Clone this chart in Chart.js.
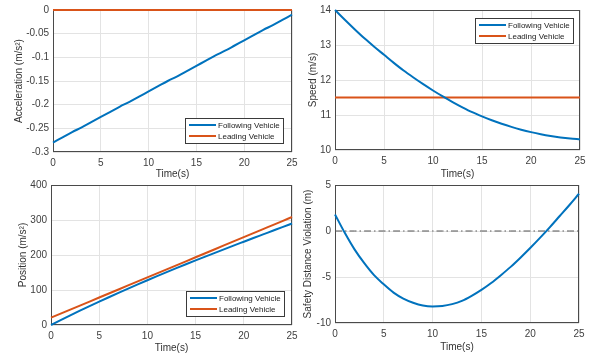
<!DOCTYPE html>
<html>
<head>
<meta charset="utf-8">
<script src="https://cdn.jsdelivr.net/npm/chart.js@4"></script>
<style>
  html, body { margin: 0; padding: 0; background: #fff; }
  #wrap { position: relative; width: 592px; height: 360px; overflow: hidden; }
  canvas { position: absolute; }
</style>
</head>
<body>
<div id="wrap">
  <canvas id="accChart" width="310" height="180" style="left:0;top:0"></canvas>
  <canvas id="speedChart" width="296" height="180" style="left:296px;top:0"></canvas>
  <canvas id="posChart" width="310" height="180" style="left:0;top:180px"></canvas>
  <canvas id="safeChart" width="296" height="180" style="left:296px;top:180px"></canvas>
</div>
<script>
// time in seconds
const time = [0,1,2,3,4,5,6,7,8,9,10,11,12,13,14,15,16,17,18,19,20,21,22,23,24,25];

// acceleration (m/s^2)
const accFollow = [-0.280,-0.269,-0.258,-0.248,-0.237,-0.226,-0.215,-0.204,-0.194,-0.183,-0.172,-0.161,-0.150,
                   -0.140,-0.129,-0.118,-0.107,-0.096,-0.086,-0.075,-0.064,-0.053,-0.042,-0.032,-0.021,-0.010];
const accLead = [0,0,0,0,0,0,0,0,0,0,0,0,0,0,0,0,0,0,0,0,0,0,0,0,0,0];

// speed (m/s)
const speedFollow = [14.00,13.72,13.45,13.19,12.95,12.72,12.49,12.27,12.07,11.88,11.70,11.53,11.37,
                     11.22,11.08,10.96,10.85,10.75,10.66,10.58,10.51,10.45,10.40,10.36,10.33,10.31];
const speedLead = [11.5,11.5,11.5,11.5,11.5,11.5,11.5,11.5,11.5,11.5,11.5,11.5,11.5,
                   11.5,11.5,11.5,11.5,11.5,11.5,11.5,11.5,11.5,11.5,11.5,11.5,11.5];

// position (m)
const posFollow = [0,13.9,27.5,40.8,53.9,66.7,79.3,91.7,103.9,115.9,127.8,139.5,151.0,
                   162.3,173.5,184.5,195.4,206.2,216.9,227.5,238.0,248.5,258.9,269.3,279.7,290.0];
const posLead = [21,32.5,44,55.5,67,78.5,90,101.5,113,124.5,136,147.5,159,
                 170.5,182,193.5,205,216.5,228,239.5,251,262.5,274,285.5,297,308.5];

// safety distance violation (m)
const safetyViol = [1.8,-0.2,-2.0,-3.5,-4.8,-5.8,-6.7,-7.35,-7.8,-8.1,-8.2,-8.15,-7.95,
                    -7.6,-7.05,-6.4,-5.65,-4.8,-3.9,-2.9,-1.85,-0.75,0.4,1.6,2.8,4.05];
const zeroLine = [0,0,0,0,0,0,0,0,0,0,0,0,0,0,0,0,0,0,0,0,0,0,0,0,0,0];

const legendNames = ['Following Vehicle', 'Leading Vehicle'];
const xTicks = [0, 5, 10, 15, 20, 25];

const BLUE = '#0072BD';
const ORANGE = '#D95319';
const FONT = "'Liberation Sans', Arial, sans-serif";

function pts(ys) {
  return ys.map((y, i) => ({ x: time[i], y: y }));
}

function line(label, ys, color) {
  return {
    label: label,
    data: pts(ys),
    borderColor: color,
    backgroundColor: color,
    borderWidth: 2,
    pointRadius: 0,
    cubicInterpolationMode: 'monotone',
    clip: 3
  };
}

// box round the plot area, like matlab's "box on"
const boxPlugin = {
  id: 'boxPlugin',
  beforeDatasetsDraw(chart) {
    const a = chart.chartArea, ctx = chart.ctx;
    ctx.save();
    ctx.strokeStyle = '#4a4a4a';
    ctx.lineWidth = 1;
    ctx.strokeRect(Math.round(a.left) + 0.5, Math.round(a.top) + 0.5,
                   Math.round(a.right - a.left) - 1, Math.round(a.bottom - a.top) - 1);
    ctx.restore();
  }
};

// legend drawn inside the plot area
const boxLegend = {
  id: 'boxLegend',
  afterDraw(chart, args, opts) {
    if (!opts.corner) return;
    const a = chart.chartArea, ctx = chart.ctx;
    const w = 98, h = 25;
    const x0 = Math.round(a.right - opts.dx - w);
    const y0 = opts.corner === 'tr' ? Math.round(a.top + opts.dy) : Math.round(a.bottom - opts.dy - h);
    ctx.save();
    ctx.fillStyle = '#fff';
    ctx.fillRect(x0, y0, w, h);
    ctx.strokeStyle = '#3a3a3a';
    ctx.lineWidth = 1;
    ctx.strokeRect(x0 + 0.5, y0 + 0.5, w, h);
    ctx.font = '8px ' + FONT;
    ctx.textBaseline = 'middle';
    chart.data.datasets.slice(0, 2).forEach((ds, i) => {
      const y = y0 + 7 + i * 11;
      ctx.strokeStyle = ds.borderColor;
      ctx.lineWidth = 2;
      ctx.beginPath();
      ctx.moveTo(x0 + 4, y);
      ctx.lineTo(x0 + 31, y);
      ctx.stroke();
      ctx.fillStyle = '#222';
      ctx.fillText(ds.label, x0 + 33, y + 0.5);
    });
    ctx.restore();
  }
};

function makeChart(id, o) {
  return new Chart(document.getElementById(id), {
    type: 'line',
    data: { datasets: o.datasets },
    plugins: [boxPlugin, boxLegend],
    options: {
      responsive: false,
      animation: false,
      layout: { padding: { top: o.padTop, right: o.padRight, left: 0, bottom: 0 } },
      plugins: {
        legend: { display: false },
        tooltip: { enabled: false },
        boxLegend: o.legend || {}
      },
      scales: {
        x: {
          type: 'linear',
          min: 0, max: 25,
          afterBuildTicks: s => { s.ticks = xTicks.map(v => ({ value: v })); },
          afterFit: s => { s.height = o.xHeight; s.paddingLeft = 0; s.paddingRight = 0; },
          grid: { color: '#e3e3e3', drawTicks: false },
          border: { display: false },
          ticks: { padding: 5, color: '#404040', font: { family: FONT, size: 10 } },
          title: { display: true, text: 'Time(s)', color: '#333', padding: { top: 0, bottom: o.xTitlePad },
                   font: { family: FONT, size: 10 } }
        },
        y: {
          min: o.yMin, max: o.yMax,
          afterBuildTicks: s => { s.ticks = o.yTicks.map(v => ({ value: v })); },
          afterFit: s => { s.width = o.yWidth; s.paddingTop = 0; s.paddingBottom = 0; },
          grid: { color: '#e3e3e3', drawTicks: false },
          border: { display: false },
          ticks: { padding: 4, color: '#404040', font: { family: FONT, size: 10 },
                   callback: v => String(+v.toFixed(2)) },
          title: { display: true, text: o.yTitle, color: '#333', padding: { top: o.yTitlePad, bottom: 0 },
                   font: { family: FONT, size: 10 } }
        }
      }
    }
  });
}

makeChart('accChart', {
  datasets: [line(legendNames[0], accFollow, BLUE), line(legendNames[1], accLead, ORANGE)],
  yMin: -0.3, yMax: 0, yTicks: [-0.3, -0.25, -0.2, -0.15, -0.1, -0.05, 0],
  yTitle: 'Acceleration (m/s²)', yWidth: 53, yTitlePad: 13,
  xHeight: 28, xTitlePad: 0, padTop: 10, padRight: 18,
  legend: { corner: 'br', dx: 9, dy: 9 }
});

makeChart('speedChart', {
  datasets: [line(legendNames[0], speedFollow, BLUE), line(legendNames[1], speedLead, ORANGE)],
  yMin: 10, yMax: 14, yTicks: [10, 11, 12, 13, 14],
  yTitle: 'Speed (m/s)', yWidth: 39, yTitlePad: 11,
  xHeight: 30, xTitlePad: 0, padTop: 10, padRight: 12,
  legend: { corner: 'tr', dx: 7, dy: 8 }
});

makeChart('posChart', {
  datasets: [line(legendNames[0], posFollow, BLUE), line(legendNames[1], posLead, ORANGE)],
  yMin: 0, yMax: 400, yTicks: [0, 100, 200, 300, 400],
  yTitle: 'Position (m/s²)', yWidth: 51, yTitlePad: 17,
  xHeight: 35, xTitlePad: 6, padTop: 5, padRight: 18,
  legend: { corner: 'br', dx: 8, dy: 9 }
});

const zeroDs = line('zero', zeroLine, '#555');
zeroDs.borderWidth = 1;
zeroDs.borderDash = [7, 3, 1.5, 3];

makeChart('safeChart', {
  datasets: [line('Safety Distance Violation', safetyViol, BLUE), zeroDs],
  yMin: -10, yMax: 5, yTicks: [-10, -5, 0, 5],
  yTitle: 'Safety Distance Violation (m)', yWidth: 39, yTitlePad: 6,
  xHeight: 37, xTitlePad: 7, padTop: 5, padRight: 13
});
</script>
</body>
</html>
